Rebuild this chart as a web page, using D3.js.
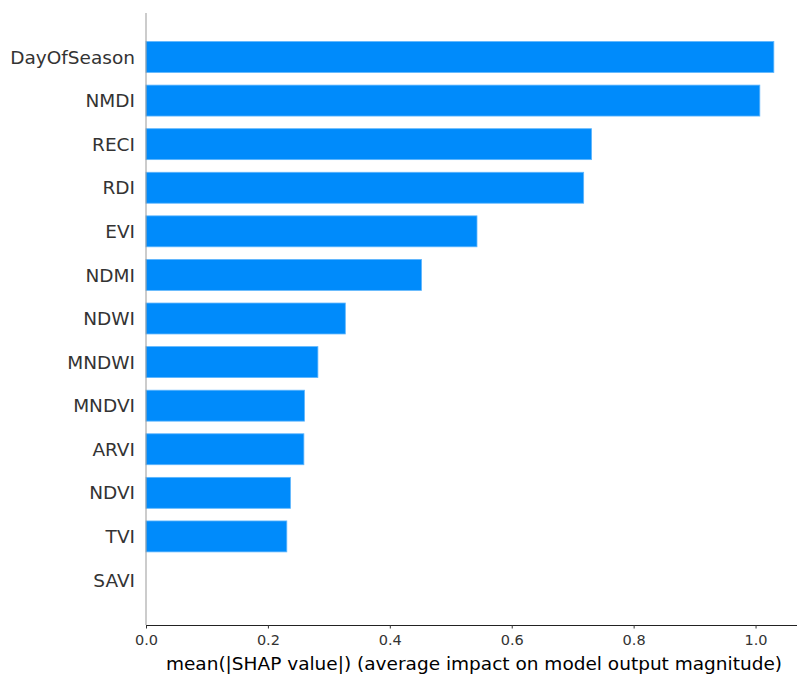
<!DOCTYPE html>
<html>
<head>
<meta charset="utf-8">
<script src="https://cdn.jsdelivr.net/npm/d3@7"></script>
<style>
  html, body { margin: 0; padding: 0; background: #fff; }
  svg { display: block; }
</style>
</head>
<body>
<svg id="chart" width="797" height="677"></svg>
<script>
// Features ordered by mean absolute SHAP value
const features = ["DayOfSeason", "NMDI", "RECI", "RDI", "EVI", "NDMI", "NDWI",
                  "MNDWI", "MNDVI", "ARVI", "NDVI", "TVI", "SAVI"];
const meanAbsShap = [1.030, 1.007, 0.731, 0.718, 0.543, 0.452, 0.327,
                     0.282, 0.260, 0.259, 0.237, 0.231, 0.0];
const xTicks = [0.0, 0.2, 0.4, 0.6, 0.8, 1.0];
const xLabel = "mean(|SHAP value|) (average impact on model output magnitude)";

const svg = d3.select("#chart");
const plotLeft = 146, plotRight = 797, plotTop = 13, plotBottom = 625;
const font = "'DejaVu Sans', sans-serif";

const x = d3.scaleLinear().domain([0, 1.068]).range([plotLeft, plotRight]);
const y = d3.scaleBand().domain(features).range([35.2, 601.8])
  .paddingInner(0.29).paddingOuter(0.145);

// bars
svg.append("g").selectAll("rect")
  .data(features.map((f, i) => ({ f, v: meanAbsShap[i] })))
  .join("rect")
  .attr("x", x(0))
  .attr("y", d => y(d.f))
  .attr("width", d => x(d.v) - x(0))
  .attr("height", y.bandwidth())
  .attr("fill", "#008bfb")
  .attr("stroke", d => d.v > 0 ? "#5fb6fd" : "none")
  .attr("stroke-width", 0.8);

// feature labels
svg.append("g").selectAll("text")
  .data(features)
  .join("text")
  .attr("x", plotLeft - 11)
  .attr("y", d => y(d) + y.bandwidth() / 2)
  .attr("dy", "0.36em")
  .attr("text-anchor", "end")
  .attr("font-family", font)
  .attr("font-size", 18.5)
  .attr("fill", "#333333")
  .text(d => d);

// left spine
svg.append("line")
  .attr("x1", plotLeft).attr("x2", plotLeft)
  .attr("y1", plotTop).attr("y2", plotBottom)
  .attr("stroke", "#999999").attr("stroke-width", 1);

// bottom axis
const xAxis = d3.axisBottom(x)
  .tickValues(xTicks)
  .tickFormat(d3.format(".1f"))
  .tickSize(3.5)
  .tickPadding(6)
  .tickSizeOuter(0);
const gx = svg.append("g")
  .attr("transform", `translate(0,${plotBottom})`)
  .call(xAxis);
gx.select(".domain").attr("stroke", "#222").attr("stroke-width", 1.2);
gx.selectAll(".tick line").attr("stroke", "#333");
gx.selectAll(".tick text")
  .attr("font-family", font)
  .attr("font-size", 14.5)
  .attr("fill", "#333333")
  .attr("dy", "0.71em");

// x axis title
svg.append("text")
  .attr("x", 474)
  .attr("y", 670)
  .attr("text-anchor", "middle")
  .attr("font-family", font)
  .attr("font-size", 18.5)
  .attr("fill", "#000")
  .text(xLabel);
</script>
</body>
</html>
